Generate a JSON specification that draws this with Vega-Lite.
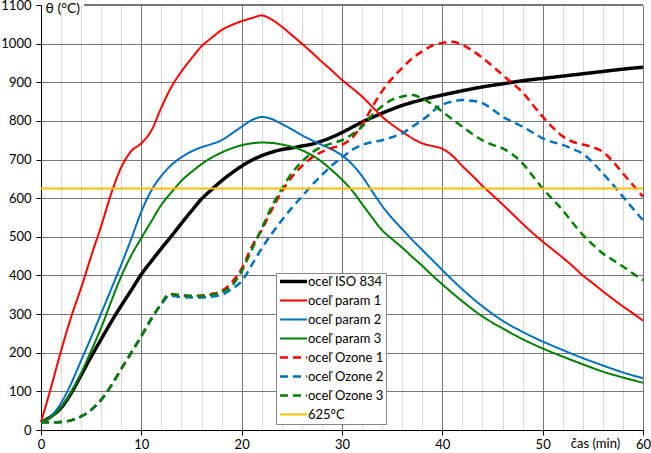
{
  "$schema": "https://vega.github.io/schema/vega-lite/v6.json",
  "width": 602,
  "height": 425,
  "autosize": {"type": "none"},
  "padding": {"left": 41, "top": 5, "right": 8, "bottom": 23},
  "background": "white",
  "config": {
    "font": "Lato",
    "view": {"stroke": null},
    "axis": {"labelFont": "Lato", "labelFontSize": 13, "labelColor": "#000", "titleFont": "Lato", "titleFontSize": 13, "titleFontWeight": "normal", "titleColor": "#000", "domainColor": "#000", "tickColor": "#000", "labelFlush": false, "labelOverlap": false},
    "legend": {"orient": "none", "legendX": 235, "legendY": 268, "symbolType": "M-3,0H3", "symbolSize": 81, "symbolOffset": 9, "labelOffset": 8, "labelFont": "Lato", "labelFontSize": 13, "labelColor": "#000", "rowPadding": 5, "padding": 2, "strokeColor": "#888", "fillColor": "white"}
  },
  "datasets": {
    "d": [
      {"s":"oceľ ISO 834","t":0,"T":20},{"s":"oceľ ISO 834","t":1,"T":35},{"s":"oceľ ISO 834","t":2,"T":57},{"s":"oceľ ISO 834","t":3,"T":95},{"s":"oceľ ISO 834","t":4,"T":142},{"s":"oceľ ISO 834","t":5,"T":190},{"s":"oceľ ISO 834","t":6,"T":235},{"s":"oceľ ISO 834","t":7,"T":280},{"s":"oceľ ISO 834","t":8,"T":322},{"s":"oceľ ISO 834","t":9,"T":362},{"s":"oceľ ISO 834","t":10,"T":403},{"s":"oceľ ISO 834","t":11,"T":437},{"s":"oceľ ISO 834","t":12,"T":470},{"s":"oceľ ISO 834","t":13,"T":502},{"s":"oceľ ISO 834","t":14,"T":535},{"s":"oceľ ISO 834","t":15,"T":567},{"s":"oceľ ISO 834","t":16,"T":598},{"s":"oceľ ISO 834","t":17,"T":622},{"s":"oceľ ISO 834","t":18,"T":645},{"s":"oceľ ISO 834","t":19,"T":665},{"s":"oceľ ISO 834","t":20,"T":683},{"s":"oceľ ISO 834","t":21,"T":698},{"s":"oceľ ISO 834","t":22,"T":710},{"s":"oceľ ISO 834","t":23,"T":719},{"s":"oceľ ISO 834","t":24,"T":726},{"s":"oceľ ISO 834","t":25,"T":730},{"s":"oceľ ISO 834","t":26,"T":735},{"s":"oceľ ISO 834","t":27,"T":740},{"s":"oceľ ISO 834","t":28,"T":748},{"s":"oceľ ISO 834","t":29,"T":758},{"s":"oceľ ISO 834","t":30,"T":770},{"s":"oceľ ISO 834","t":32,"T":797},{"s":"oceľ ISO 834","t":34,"T":820},{"s":"oceľ ISO 834","t":36,"T":840},{"s":"oceľ ISO 834","t":38,"T":855},{"s":"oceľ ISO 834","t":40,"T":867},{"s":"oceľ ISO 834","t":42,"T":878},{"s":"oceľ ISO 834","t":44,"T":888},{"s":"oceľ ISO 834","t":46,"T":896},{"s":"oceľ ISO 834","t":48,"T":904},{"s":"oceľ ISO 834","t":50,"T":910},{"s":"oceľ ISO 834","t":52,"T":916},{"s":"oceľ ISO 834","t":54,"T":922},{"s":"oceľ ISO 834","t":56,"T":928},{"s":"oceľ ISO 834","t":58,"T":934},{"s":"oceľ ISO 834","t":60,"T":939},

      {"s":"oceľ param 1","t":0,"T":20},{"s":"oceľ param 1","t":1,"T":110},{"s":"oceľ param 1","t":2,"T":205},{"s":"oceľ param 1","t":3,"T":292},{"s":"oceľ param 1","t":4,"T":368},{"s":"oceľ param 1","t":5,"T":450},{"s":"oceľ param 1","t":6,"T":528},{"s":"oceľ param 1","t":7,"T":612},{"s":"oceľ param 1","t":8,"T":680},{"s":"oceľ param 1","t":9,"T":722},{"s":"oceľ param 1","t":10,"T":742},{"s":"oceľ param 1","t":11,"T":775},{"s":"oceľ param 1","t":12,"T":835},{"s":"oceľ param 1","t":13,"T":888},{"s":"oceľ param 1","t":14,"T":928},{"s":"oceľ param 1","t":15,"T":962},{"s":"oceľ param 1","t":16,"T":993},{"s":"oceľ param 1","t":17,"T":1015},{"s":"oceľ param 1","t":18,"T":1035},{"s":"oceľ param 1","t":19,"T":1048},{"s":"oceľ param 1","t":20,"T":1058},{"s":"oceľ param 1","t":21,"T":1066},{"s":"oceľ param 1","t":22,"T":1073},{"s":"oceľ param 1","t":23,"T":1062},{"s":"oceľ param 1","t":24,"T":1044},{"s":"oceľ param 1","t":25,"T":1022},{"s":"oceľ param 1","t":26,"T":1000},{"s":"oceľ param 1","t":27,"T":977},{"s":"oceľ param 1","t":28,"T":953},{"s":"oceľ param 1","t":29,"T":930},{"s":"oceľ param 1","t":30,"T":906},{"s":"oceľ param 1","t":31,"T":885},{"s":"oceľ param 1","t":32,"T":863},{"s":"oceľ param 1","t":33,"T":837},{"s":"oceľ param 1","t":34,"T":811},{"s":"oceľ param 1","t":35,"T":790},{"s":"oceľ param 1","t":36,"T":772},{"s":"oceľ param 1","t":37,"T":755},{"s":"oceľ param 1","t":38,"T":742},{"s":"oceľ param 1","t":39,"T":735},{"s":"oceľ param 1","t":40,"T":728},{"s":"oceľ param 1","t":41,"T":710},{"s":"oceľ param 1","t":42,"T":683},{"s":"oceľ param 1","t":43,"T":658},{"s":"oceľ param 1","t":44,"T":632},{"s":"oceľ param 1","t":45,"T":608},{"s":"oceľ param 1","t":46,"T":584},{"s":"oceľ param 1","t":47,"T":559},{"s":"oceľ param 1","t":48,"T":534},{"s":"oceľ param 1","t":49,"T":510},{"s":"oceľ param 1","t":50,"T":488},{"s":"oceľ param 1","t":51,"T":467},{"s":"oceľ param 1","t":52,"T":446},{"s":"oceľ param 1","t":53,"T":424},{"s":"oceľ param 1","t":54,"T":400},{"s":"oceľ param 1","t":55,"T":380},{"s":"oceľ param 1","t":56,"T":359},{"s":"oceľ param 1","t":57,"T":339},{"s":"oceľ param 1","t":58,"T":320},{"s":"oceľ param 1","t":59,"T":302},{"s":"oceľ param 1","t":60,"T":283},

      {"s":"oceľ param 2","t":0,"T":20},{"s":"oceľ param 2","t":1,"T":36},{"s":"oceľ param 2","t":2,"T":70},{"s":"oceľ param 2","t":3,"T":120},{"s":"oceľ param 2","t":4,"T":180},{"s":"oceľ param 2","t":5,"T":240},{"s":"oceľ param 2","t":6,"T":302},{"s":"oceľ param 2","t":7,"T":365},{"s":"oceľ param 2","t":8,"T":428},{"s":"oceľ param 2","t":9,"T":495},{"s":"oceľ param 2","t":10,"T":565},{"s":"oceľ param 2","t":11,"T":620},{"s":"oceľ param 2","t":12,"T":658},{"s":"oceľ param 2","t":13,"T":686},{"s":"oceľ param 2","t":14,"T":706},{"s":"oceľ param 2","t":15,"T":721},{"s":"oceľ param 2","t":16,"T":732},{"s":"oceľ param 2","t":17,"T":740},{"s":"oceľ param 2","t":18,"T":750},{"s":"oceľ param 2","t":19,"T":767},{"s":"oceľ param 2","t":20,"T":785},{"s":"oceľ param 2","t":21,"T":802},{"s":"oceľ param 2","t":22,"T":810},{"s":"oceľ param 2","t":23,"T":805},{"s":"oceľ param 2","t":24,"T":792},{"s":"oceľ param 2","t":25,"T":778},{"s":"oceľ param 2","t":26,"T":763},{"s":"oceľ param 2","t":27,"T":750},{"s":"oceľ param 2","t":28,"T":738},{"s":"oceľ param 2","t":29,"T":726},{"s":"oceľ param 2","t":30,"T":711},{"s":"oceľ param 2","t":31,"T":688},{"s":"oceľ param 2","t":32,"T":657},{"s":"oceľ param 2","t":33,"T":618},{"s":"oceľ param 2","t":34,"T":580},{"s":"oceľ param 2","t":35,"T":548},{"s":"oceľ param 2","t":36,"T":520},{"s":"oceľ param 2","t":37,"T":492},{"s":"oceľ param 2","t":38,"T":466},{"s":"oceľ param 2","t":39,"T":440},{"s":"oceľ param 2","t":40,"T":414},{"s":"oceľ param 2","t":42,"T":364},{"s":"oceľ param 2","t":44,"T":320},{"s":"oceľ param 2","t":46,"T":283},{"s":"oceľ param 2","t":48,"T":254},{"s":"oceľ param 2","t":50,"T":229},{"s":"oceľ param 2","t":52,"T":207},{"s":"oceľ param 2","t":54,"T":186},{"s":"oceľ param 2","t":56,"T":167},{"s":"oceľ param 2","t":58,"T":149},{"s":"oceľ param 2","t":60,"T":134},

      {"s":"oceľ param 3","t":0,"T":20},{"s":"oceľ param 3","t":1,"T":33},{"s":"oceľ param 3","t":2,"T":58},{"s":"oceľ param 3","t":3,"T":97},{"s":"oceľ param 3","t":4,"T":147},{"s":"oceľ param 3","t":5,"T":205},{"s":"oceľ param 3","t":6,"T":265},{"s":"oceľ param 3","t":7,"T":333},{"s":"oceľ param 3","t":8,"T":398},{"s":"oceľ param 3","t":9,"T":452},{"s":"oceľ param 3","t":10,"T":497},{"s":"oceľ param 3","t":11,"T":540},{"s":"oceľ param 3","t":12,"T":583},{"s":"oceľ param 3","t":13,"T":615},{"s":"oceľ param 3","t":14,"T":645},{"s":"oceľ param 3","t":15,"T":668},{"s":"oceľ param 3","t":16,"T":688},{"s":"oceľ param 3","t":17,"T":705},{"s":"oceľ param 3","t":18,"T":718},{"s":"oceľ param 3","t":19,"T":729},{"s":"oceľ param 3","t":20,"T":737},{"s":"oceľ param 3","t":21,"T":742},{"s":"oceľ param 3","t":22,"T":744},{"s":"oceľ param 3","t":23,"T":743},{"s":"oceľ param 3","t":24,"T":739},{"s":"oceľ param 3","t":25,"T":733},{"s":"oceľ param 3","t":26,"T":724},{"s":"oceľ param 3","t":27,"T":711},{"s":"oceľ param 3","t":28,"T":694},{"s":"oceľ param 3","t":29,"T":672},{"s":"oceľ param 3","t":30,"T":648},{"s":"oceľ param 3","t":31,"T":620},{"s":"oceľ param 3","t":32,"T":585},{"s":"oceľ param 3","t":33,"T":550},{"s":"oceľ param 3","t":34,"T":517},{"s":"oceľ param 3","t":35,"T":494},{"s":"oceľ param 3","t":36,"T":472},{"s":"oceľ param 3","t":37,"T":448},{"s":"oceľ param 3","t":38,"T":425},{"s":"oceľ param 3","t":39,"T":400},{"s":"oceľ param 3","t":40,"T":377},{"s":"oceľ param 3","t":42,"T":333},{"s":"oceľ param 3","t":44,"T":294},{"s":"oceľ param 3","t":46,"T":263},{"s":"oceľ param 3","t":48,"T":235},{"s":"oceľ param 3","t":50,"T":211},{"s":"oceľ param 3","t":52,"T":190},{"s":"oceľ param 3","t":54,"T":170},{"s":"oceľ param 3","t":56,"T":151},{"s":"oceľ param 3","t":58,"T":136},{"s":"oceľ param 3","t":60,"T":122},

      {"s":"oceľ Ozone 1","t":0,"T":20},{"s":"oceľ Ozone 1","t":1,"T":20},{"s":"oceľ Ozone 1","t":2,"T":21},{"s":"oceľ Ozone 1","t":3,"T":25},{"s":"oceľ Ozone 1","t":4,"T":35},{"s":"oceľ Ozone 1","t":5,"T":52},{"s":"oceľ Ozone 1","t":6,"T":78},{"s":"oceľ Ozone 1","t":7,"T":115},{"s":"oceľ Ozone 1","t":8,"T":158},{"s":"oceľ Ozone 1","t":9,"T":200},{"s":"oceľ Ozone 1","t":10,"T":243},{"s":"oceľ Ozone 1","t":11,"T":288},{"s":"oceľ Ozone 1","t":12,"T":327},{"s":"oceľ Ozone 1","t":12.8,"T":352},{"s":"oceľ Ozone 1","t":13.5,"T":350},{"s":"oceľ Ozone 1","t":15,"T":347},{"s":"oceľ Ozone 1","t":16,"T":348},{"s":"oceľ Ozone 1","t":17,"T":352},{"s":"oceľ Ozone 1","t":18,"T":360},{"s":"oceľ Ozone 1","t":19,"T":382},{"s":"oceľ Ozone 1","t":20,"T":418},{"s":"oceľ Ozone 1","t":21,"T":474},{"s":"oceľ Ozone 1","t":22,"T":518},{"s":"oceľ Ozone 1","t":23,"T":570},{"s":"oceľ Ozone 1","t":24,"T":617},{"s":"oceľ Ozone 1","t":25,"T":655},{"s":"oceľ Ozone 1","t":26,"T":683},{"s":"oceľ Ozone 1","t":27,"T":705},{"s":"oceľ Ozone 1","t":28,"T":720},{"s":"oceľ Ozone 1","t":29,"T":730},{"s":"oceľ Ozone 1","t":30,"T":738},{"s":"oceľ Ozone 1","t":31,"T":756},{"s":"oceľ Ozone 1","t":32,"T":790},{"s":"oceľ Ozone 1","t":33,"T":835},{"s":"oceľ Ozone 1","t":34,"T":877},{"s":"oceľ Ozone 1","t":35,"T":910},{"s":"oceľ Ozone 1","t":36,"T":937},{"s":"oceľ Ozone 1","t":37,"T":962},{"s":"oceľ Ozone 1","t":38,"T":980},{"s":"oceľ Ozone 1","t":39,"T":995},{"s":"oceľ Ozone 1","t":40,"T":1002},{"s":"oceľ Ozone 1","t":41,"T":1005},{"s":"oceľ Ozone 1","t":42,"T":997},{"s":"oceľ Ozone 1","t":43,"T":982},{"s":"oceľ Ozone 1","t":44,"T":963},{"s":"oceľ Ozone 1","t":45,"T":942},{"s":"oceľ Ozone 1","t":46,"T":919},{"s":"oceľ Ozone 1","t":47,"T":897},{"s":"oceľ Ozone 1","t":48,"T":874},{"s":"oceľ Ozone 1","t":49,"T":842},{"s":"oceľ Ozone 1","t":50,"T":811},{"s":"oceľ Ozone 1","t":51,"T":783},{"s":"oceľ Ozone 1","t":52,"T":760},{"s":"oceľ Ozone 1","t":53,"T":746},{"s":"oceľ Ozone 1","t":54,"T":739},{"s":"oceľ Ozone 1","t":55,"T":732},{"s":"oceľ Ozone 1","t":56,"T":720},{"s":"oceľ Ozone 1","t":57,"T":695},{"s":"oceľ Ozone 1","t":58,"T":664},{"s":"oceľ Ozone 1","t":59,"T":634},{"s":"oceľ Ozone 1","t":60,"T":604},

      {"s":"oceľ Ozone 2","t":0,"T":20},{"s":"oceľ Ozone 2","t":1,"T":20},{"s":"oceľ Ozone 2","t":2,"T":21},{"s":"oceľ Ozone 2","t":3,"T":25},{"s":"oceľ Ozone 2","t":4,"T":35},{"s":"oceľ Ozone 2","t":5,"T":52},{"s":"oceľ Ozone 2","t":6,"T":78},{"s":"oceľ Ozone 2","t":7,"T":115},{"s":"oceľ Ozone 2","t":8,"T":158},{"s":"oceľ Ozone 2","t":9,"T":200},{"s":"oceľ Ozone 2","t":10,"T":243},{"s":"oceľ Ozone 2","t":11,"T":288},{"s":"oceľ Ozone 2","t":12,"T":325},{"s":"oceľ Ozone 2","t":12.8,"T":348},{"s":"oceľ Ozone 2","t":14,"T":344},{"s":"oceľ Ozone 2","t":16,"T":343},{"s":"oceľ Ozone 2","t":18,"T":350},{"s":"oceľ Ozone 2","t":19,"T":365},{"s":"oceľ Ozone 2","t":20,"T":385},{"s":"oceľ Ozone 2","t":21,"T":427},{"s":"oceľ Ozone 2","t":22,"T":470},{"s":"oceľ Ozone 2","t":23,"T":508},{"s":"oceľ Ozone 2","t":24,"T":543},{"s":"oceľ Ozone 2","t":25,"T":575},{"s":"oceľ Ozone 2","t":26,"T":604},{"s":"oceľ Ozone 2","t":27,"T":634},{"s":"oceľ Ozone 2","t":28,"T":660},{"s":"oceľ Ozone 2","t":29,"T":685},{"s":"oceľ Ozone 2","t":30,"T":705},{"s":"oceľ Ozone 2","t":31,"T":725},{"s":"oceľ Ozone 2","t":32,"T":738},{"s":"oceľ Ozone 2","t":33,"T":745},{"s":"oceľ Ozone 2","t":34,"T":750},{"s":"oceľ Ozone 2","t":35,"T":758},{"s":"oceľ Ozone 2","t":36,"T":768},{"s":"oceľ Ozone 2","t":37,"T":785},{"s":"oceľ Ozone 2","t":38,"T":802},{"s":"oceľ Ozone 2","t":39,"T":823},{"s":"oceľ Ozone 2","t":39.5,"T":835},{"s":"oceľ Ozone 2","t":40,"T":842},{"s":"oceľ Ozone 2","t":41,"T":850},{"s":"oceľ Ozone 2","t":42,"T":854},{"s":"oceľ Ozone 2","t":43,"T":852},{"s":"oceľ Ozone 2","t":44,"T":846},{"s":"oceľ Ozone 2","t":45,"T":830},{"s":"oceľ Ozone 2","t":46,"T":811},{"s":"oceľ Ozone 2","t":47,"T":798},{"s":"oceľ Ozone 2","t":48,"T":785},{"s":"oceľ Ozone 2","t":49,"T":770},{"s":"oceľ Ozone 2","t":50,"T":755},{"s":"oceľ Ozone 2","t":51,"T":745},{"s":"oceľ Ozone 2","t":52,"T":738},{"s":"oceľ Ozone 2","t":53,"T":727},{"s":"oceľ Ozone 2","t":54,"T":715},{"s":"oceľ Ozone 2","t":55,"T":692},{"s":"oceľ Ozone 2","t":56,"T":664},{"s":"oceľ Ozone 2","t":57,"T":635},{"s":"oceľ Ozone 2","t":58,"T":604},{"s":"oceľ Ozone 2","t":59,"T":573},{"s":"oceľ Ozone 2","t":60,"T":543},

      {"s":"oceľ Ozone 3","t":0,"T":20},{"s":"oceľ Ozone 3","t":1,"T":20},{"s":"oceľ Ozone 3","t":2,"T":21},{"s":"oceľ Ozone 3","t":3,"T":25},{"s":"oceľ Ozone 3","t":4,"T":35},{"s":"oceľ Ozone 3","t":5,"T":52},{"s":"oceľ Ozone 3","t":6,"T":78},{"s":"oceľ Ozone 3","t":7,"T":115},{"s":"oceľ Ozone 3","t":8,"T":158},{"s":"oceľ Ozone 3","t":9,"T":200},{"s":"oceľ Ozone 3","t":10,"T":243},{"s":"oceľ Ozone 3","t":11,"T":288},{"s":"oceľ Ozone 3","t":12,"T":327},{"s":"oceľ Ozone 3","t":12.8,"T":352},{"s":"oceľ Ozone 3","t":13.5,"T":350},{"s":"oceľ Ozone 3","t":15,"T":347},{"s":"oceľ Ozone 3","t":16,"T":347},{"s":"oceľ Ozone 3","t":17,"T":350},{"s":"oceľ Ozone 3","t":18,"T":357},{"s":"oceľ Ozone 3","t":19,"T":373},{"s":"oceľ Ozone 3","t":20,"T":411},{"s":"oceľ Ozone 3","t":21,"T":466},{"s":"oceľ Ozone 3","t":22,"T":522},{"s":"oceľ Ozone 3","t":23,"T":578},{"s":"oceľ Ozone 3","t":24,"T":624},{"s":"oceľ Ozone 3","t":25,"T":665},{"s":"oceľ Ozone 3","t":26,"T":694},{"s":"oceľ Ozone 3","t":27,"T":718},{"s":"oceľ Ozone 3","t":28,"T":733},{"s":"oceľ Ozone 3","t":29,"T":742},{"s":"oceľ Ozone 3","t":30,"T":750},{"s":"oceľ Ozone 3","t":31,"T":765},{"s":"oceľ Ozone 3","t":32,"T":785},{"s":"oceľ Ozone 3","t":33,"T":815},{"s":"oceľ Ozone 3","t":34,"T":838},{"s":"oceľ Ozone 3","t":35,"T":855},{"s":"oceľ Ozone 3","t":36,"T":863},{"s":"oceľ Ozone 3","t":37,"T":867},{"s":"oceľ Ozone 3","t":38,"T":858},{"s":"oceľ Ozone 3","t":39,"T":843},{"s":"oceľ Ozone 3","t":40,"T":824},{"s":"oceľ Ozone 3","t":41,"T":804},{"s":"oceľ Ozone 3","t":42,"T":785},{"s":"oceľ Ozone 3","t":43,"T":766},{"s":"oceľ Ozone 3","t":44,"T":750},{"s":"oceľ Ozone 3","t":45,"T":738},{"s":"oceľ Ozone 3","t":46,"T":729},{"s":"oceľ Ozone 3","t":47,"T":713},{"s":"oceľ Ozone 3","t":48,"T":690},{"s":"oceľ Ozone 3","t":49,"T":658},{"s":"oceľ Ozone 3","t":50,"T":625},{"s":"oceľ Ozone 3","t":51,"T":597},{"s":"oceľ Ozone 3","t":52,"T":569},{"s":"oceľ Ozone 3","t":53,"T":536},{"s":"oceľ Ozone 3","t":54,"T":505},{"s":"oceľ Ozone 3","t":55,"T":480},{"s":"oceľ Ozone 3","t":56,"T":457},{"s":"oceľ Ozone 3","t":57,"T":440},{"s":"oceľ Ozone 3","t":58,"T":423},{"s":"oceľ Ozone 3","t":59,"T":405},{"s":"oceľ Ozone 3","t":60,"T":388},

      {"s":"625°C","t":0,"T":625},{"s":"625°C","t":60,"T":625}
    ]
  },
  "data": {"name": "d"},
  "layer": [
    {
      "mark": {"type": "rule", "color": "#777", "strokeWidth": 1},
      "encoding": {
        "x": {
          "datum": 4.3,
          "scale": {"domain": [0, 60], "nice": false, "zero": false},
          "axis": {
            "values": [0,2,4,6,8,10,12,14,16,18,20,22,24,26,28,30,32,34,36,38,40,42,44,46,48,50,52,54,56,58,60],
            "format": "d",
            "labelExpr": "datum.value % 10 === 0 ? datum.label : ''",
            "labelOverlap": false,
            "labelBound": false,
            "labelFlush": false,
            "grid": true,
            "gridColor": {"condition": {"test": "datum.value % 10 === 0", "value": "#777"}, "value": "#d9d9d9"},
            "gridWidth": 1,
            "tickOpacity": {"condition": {"test": "datum.value % 10 === 0", "value": 1}, "value": 0},
            "tickSize": 5,
            "labelPadding": 3,
            "title": "čas (min)",
            "titleX": 554,
            "titleY": 17,
            "titleAlign": "center",
            "titleBaseline": "alphabetic"
          }
        },
        "x2": {"datum": 60},
        "y": {
          "datum": 1100,
          "scale": {"domain": [0, 1100], "nice": false},
          "axis": {
            "values": [0,100,200,300,400,500,600,700,800,900,1000,1100],
            "format": "d",
            "labelOverlap": false,
            "labelBound": false,
            "grid": true,
            "gridColor": "#777",
            "gridOpacity": {"condition": {"test": "datum.value === 1100", "value": 0}, "value": 1},
            "tickSize": 5,
            "labelPadding": 5,
            "title": "θ (°C)",
            "titleAngle": 0,
            "titleAlign": "left",
            "titleBaseline": "top",
            "titleX": 4,
            "titleY": -4,
            "titleFontSize": 14
          }
        }
      }
    },
    {
      "mark": {"type": "line", "interpolate": "monotone"},
      "encoding": {
        "x": {
          "field": "t", "type": "quantitative",
          "scale": {"domain": [0, 60], "nice": false, "zero": false},
          "axis": {
            "values": [0,2,4,6,8,10,12,14,16,18,20,22,24,26,28,30,32,34,36,38,40,42,44,46,48,50,52,54,56,58,60],
            "format": "d",
            "labelExpr": "datum.value % 10 === 0 ? datum.label : ''",
            "labelOverlap": false,
            "labelBound": false,
            "labelFlush": false,
            "grid": true,
            "gridColor": {"condition": {"test": "datum.value % 10 === 0", "value": "#777"}, "value": "#d9d9d9"},
            "gridWidth": 1,
            "tickOpacity": {"condition": {"test": "datum.value % 10 === 0", "value": 1}, "value": 0},
            "tickSize": 5,
            "labelPadding": 3,
            "title": "čas (min)",
            "titleX": 554,
            "titleY": 17,
            "titleAlign": "center",
            "titleBaseline": "alphabetic"
          }
        },
        "y": {
          "field": "T", "type": "quantitative",
          "scale": {"domain": [0, 1100], "nice": false},
          "axis": {
            "values": [0,100,200,300,400,500,600,700,800,900,1000,1100],
            "format": "d",
            "labelOverlap": false,
            "labelBound": false,
            "grid": true,
            "gridColor": "#777",
            "gridOpacity": {"condition": {"test": "datum.value === 1100", "value": 0}, "value": 1},
            "tickSize": 5,
            "labelPadding": 5,
            "title": "θ (°C)",
            "titleAngle": 0,
            "titleAlign": "left",
            "titleBaseline": "top",
            "titleX": 4,
            "titleY": -4,
            "titleFontSize": 14
          }
        },
        "color": {
          "field": "s", "type": "nominal",
          "scale": {
            "domain": ["oceľ ISO 834","oceľ param 1","oceľ param 2","oceľ param 3","oceľ Ozone 1","oceľ Ozone 2","oceľ Ozone 3","625°C"],
            "range": ["#000000","#ff0000","#0070c0","#008000","#ff0000","#0070c0","#008000","#ffc000"]
          },
          "legend": {"title": null}
        },
        "strokeDash": {
          "field": "s", "type": "nominal",
          "scale": {
            "domain": ["oceľ ISO 834","oceľ param 1","oceľ param 2","oceľ param 3","oceľ Ozone 1","oceľ Ozone 2","oceľ Ozone 3","625°C"],
            "range": [[1,0],[1,0],[1,0],[1,0],[8,5],[8,5],[8,5],[1,0]]
          },
          "legend": {"title": null}
        },
        "strokeWidth": {
          "field": "s", "type": "nominal",
          "scale": {
            "type": "ordinal",
            "domain": ["oceľ ISO 834","oceľ param 1","oceľ param 2","oceľ param 3","oceľ Ozone 1","oceľ Ozone 2","oceľ Ozone 3","625°C"],
            "range": [3.5,2,2,2,2.5,2.5,2.5,2]
          },
          "legend": {"title": null}
        }
      }
    }
  ]
}
